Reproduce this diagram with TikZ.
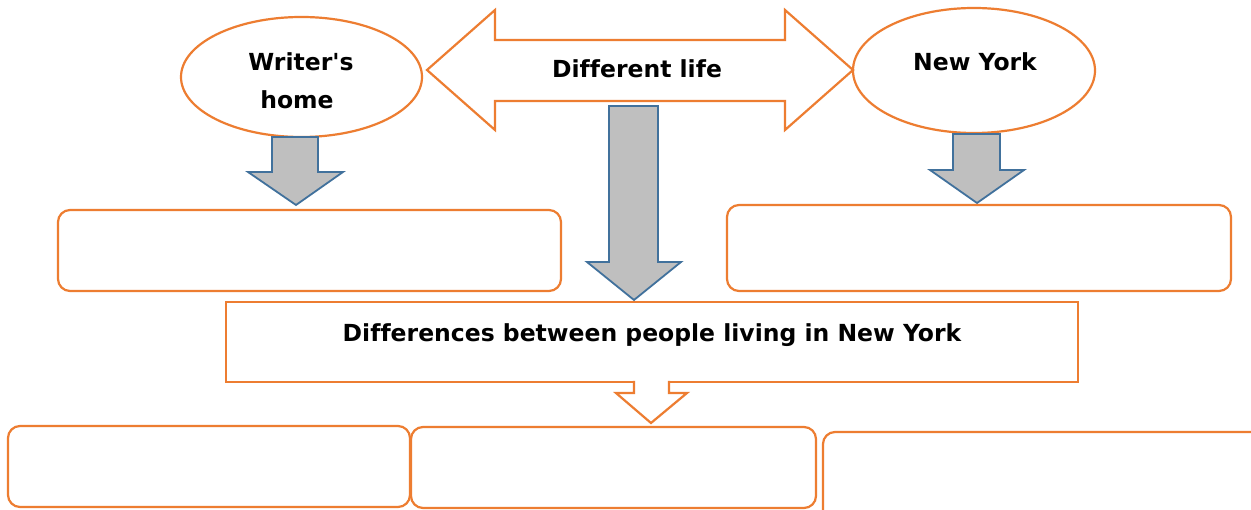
\documentclass[tikz,border=0pt]{standalone}
\usepackage{fontspec}
\newfontfamily\lblfont{DejaVu Sans}[Ligatures=NoCommon]
\usetikzlibrary{shapes.geometric}
\definecolor{orng}{HTML}{ED7D31}
\definecolor{grayfill}{HTML}{BFBFBF}
\definecolor{blueline}{HTML}{41719C}
\tikzset{
  obox/.style={draw=orng, line width=2.2pt, rounded corners=12pt},
  oline/.style={draw=orng, line width=2.2pt, line join=miter},
  oell/.style={ellipse, draw=orng, line width=2.2pt, inner sep=0pt, fill=white},
  garrow/.style={draw=blueline, fill=grayfill, line width=1.8pt, line join=miter},
  lbl/.style={font=\lblfont\bfseries\fontsize{23.5}{28}\selectfont, inner sep=0pt, anchor=base},
}
\begin{document}
\begin{tikzpicture}[x=1pt,y=-1pt]
\useasboundingbox (0,0) rectangle (1251,510);
\fill[white] (0,0) rectangle (1251,510);
% ellipses
\node[oell, minimum width=241pt, minimum height=120pt] (wh) at (301.5,77) {};
\node[oell, minimum width=242pt, minimum height=125pt] (ny) at (974,70.5) {};
\node[lbl] (whA) at (301,71) {Writer's};
\node[lbl] (whB) at (297,109) {home};
\node[lbl] (nyt) at (975,71) {New York};
% double arrow
\draw[oline] (427,70) -- (495,10) -- (495,40) -- (785,40) -- (785,10) -- (853,70)
  -- (785,130) -- (785,101) -- (495,101) -- (495,130) -- cycle;
\node[lbl] (dl) at (637,78) {Different life};
% gray arrows
\draw[garrow] (272,137) -- (318,137) -- (318,172) -- (343,172) -- (296,205)
  -- (248,172) -- (272,172) -- cycle;
\draw[garrow] (609,106) -- (658,106) -- (658,262) -- (681,262) -- (634,300)
  -- (587,262) -- (609,262) -- cycle;
\draw[garrow] (953,134) -- (1000,134) -- (1000,170) -- (1024,170) -- (977,203)
  -- (930,170) -- (953,170) -- cycle;
% boxes second row
\draw[obox] (58,210) rectangle (561,291);
\draw[obox] (727,205) rectangle (1231,291);
% central rectangle
\draw[oline] (226,302) rectangle (1078,382);
\node[lbl] (diff) at (652,342) {Differences between people living in New York};
% orange down arrow
\draw[oline, fill=white] (634,381) -- (634,393) -- (616,393) -- (651,423) -- (687,393)
  -- (669,393) -- (669,381);
% bottom boxes
\draw[obox] (8,426) rectangle (410,507);
\draw[obox] (411,427) rectangle (816,508);
\draw[obox] (823,432) rectangle (1275,530);
\end{tikzpicture}
\end{document}
